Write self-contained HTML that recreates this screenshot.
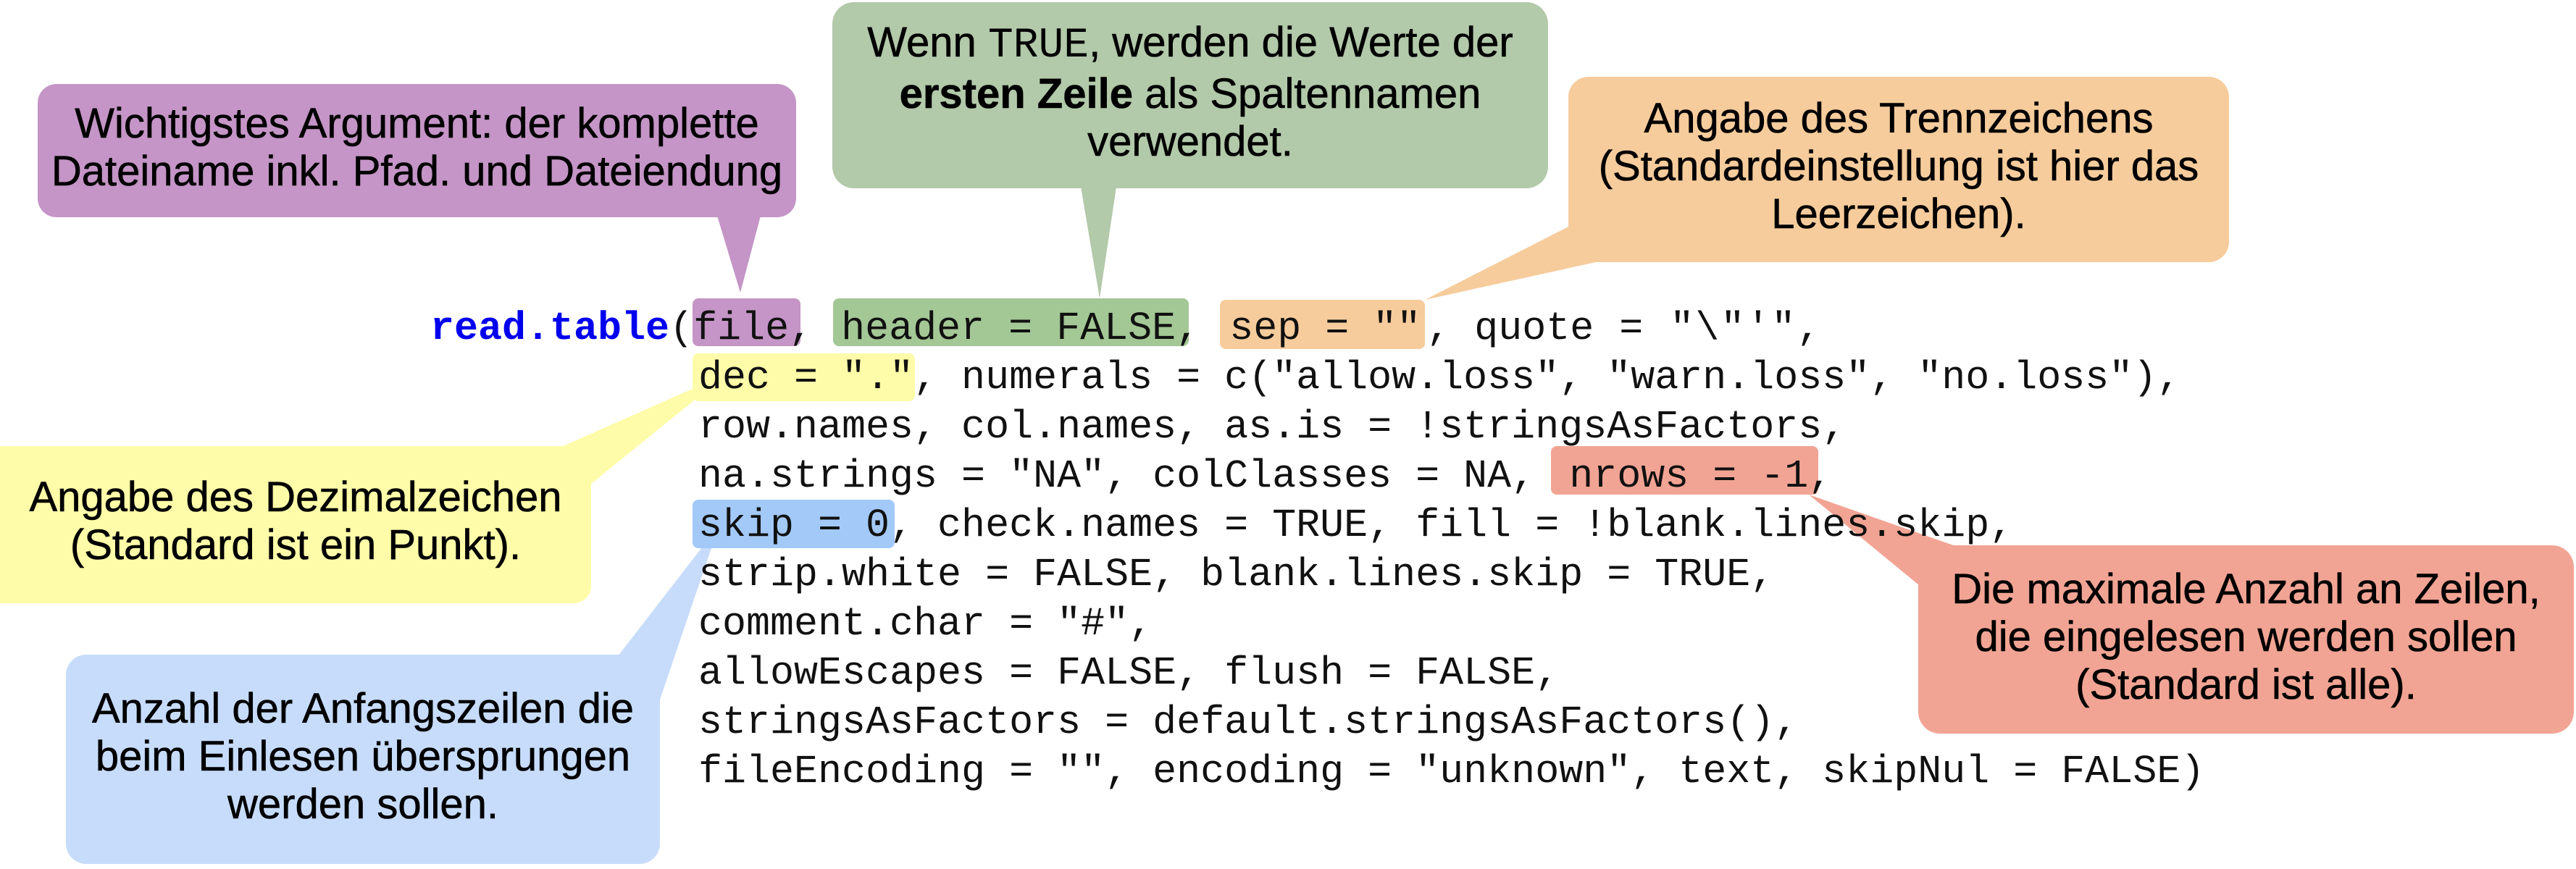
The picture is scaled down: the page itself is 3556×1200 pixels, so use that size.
<!DOCTYPE html>
<html><head><meta charset="utf-8"><style>
html,body{margin:0;padding:0;background:#fff;}
body{width:3556px;height:1200px;position:relative;overflow:hidden;}
svg{position:absolute;left:0;top:0;}
.code{position:absolute;left:964px;font-family:"Liberation Mono",monospace;font-size:55px;color:#111;white-space:pre;line-height:68px;}
.t{position:absolute;font-family:"Liberation Sans",sans-serif;font-size:58px;color:#000;text-align:center;line-height:66px;-webkit-text-stroke:0.6px #000;}
.m{font-family:"Liberation Mono",monospace;-webkit-text-stroke:0;}
</style></head><body>
<svg width="3556" height="1200">
<rect x="52" y="116" width="1047" height="184" rx="26" fill="#c495c6"/>
<polygon points="990,298 1050,298 1022,404" fill="#c495c6"/>
<rect x="1149" y="3" width="988" height="257" rx="30" fill="#b2c9aa"/>
<polygon points="1492,258 1541,258 1518,412" fill="#b2c9aa"/>
<rect x="2165" y="106" width="912" height="256" rx="28" fill="#f6cc9c"/>
<polygon points="2167,312 2212,360 1967,414" fill="#f6cc9c"/>
<rect x="-30" y="616" width="846" height="217" rx="24" fill="#fefca8"/>
<polygon points="773,618 958,536 958,553 816,668" fill="#fefca8"/>
<rect x="91" y="904" width="820" height="289" rx="28" fill="#c7dcfa"/>
<polygon points="853,906 972,752 982,757 911,966" fill="#c7dcfa"/>
<rect x="2648" y="753" width="905" height="260" rx="30" fill="#f2a494"/>
<polygon points="2497,683 2705,756 2649,808" fill="#f2a494"/>
<rect x="956" y="412" width="149" height="66" rx="8" fill="#c495c6"/>
<rect x="1150" y="412" width="491" height="66" rx="8" fill="#a3c795"/>
<rect x="1684" y="414" width="283" height="68" rx="8" fill="#f6cc9c"/>
<rect x="956" y="488" width="307" height="66" rx="8" fill="#fefca8"/>
<rect x="2141" y="616" width="369" height="67" rx="8" fill="#f2a494"/>
<rect x="956" y="690" width="279" height="67" rx="8" fill="#a3c9f8"/>
</svg>
<div class="code" style="left:594px;top:420px;"><b style="color:#0000ee">read.table</b>(file, <span style="margin-left:6px">header = FALSE</span>, <span style="margin-left:8px">sep = ""</span><span style="margin-left:8px">, quote</span><span style="letter-spacing:2px"> = "\"'",</span></div>
<div class="code" style="top:488px;">dec = ".", numerals = c("allow.loss", "warn.loss", "no.loss"),
row.names, col.names, as.is = !stringsAsFactors,
na.strings = "NA", colClasses = NA, <span style="margin-left:14px">nrows = -1</span>,
skip = 0, check.names = TRUE, fill = !blank.lines.skip,
strip.white = FALSE, blank.lines.skip = TRUE,
comment.char = "#",
allowEscapes = FALSE, flush = FALSE,
stringsAsFactors = default.stringsAsFactors(),
fileEncoding = "", encoding = "unknown", text, skipNul = FALSE)</div>
<div class="t" style="left:52px;top:138px;width:1047px;">Wichtigstes Argument: der komplette<br>Dateiname inkl. Pfad. und Dateiendung</div>
<div class="t" style="left:1149px;top:26px;width:988px;">Wenn <span class="m">TRUE</span>, werden die Werte der<br><b>ersten Zeile</b> als Spaltennamen<br>verwendet.</div>
<div class="t" style="left:2165px;top:131px;width:912px;">Angabe des Trennzeichens<br>(Standardeinstellung ist hier das<br>Leerzeichen).</div>
<div class="t" style="left:0px;top:654px;width:816px;">Angabe des Dezimalzeichen<br>(Standard ist ein Punkt).</div>
<div class="t" style="left:91px;top:946px;width:820px;">Anzahl der Anfangszeilen die<br>beim Einlesen übersprungen<br>werden sollen.</div>
<div class="t" style="left:2648px;top:781px;width:905px;">Die maximale Anzahl an Zeilen,<br>die eingelesen werden sollen<br>(Standard ist alle).</div>
</body></html>
